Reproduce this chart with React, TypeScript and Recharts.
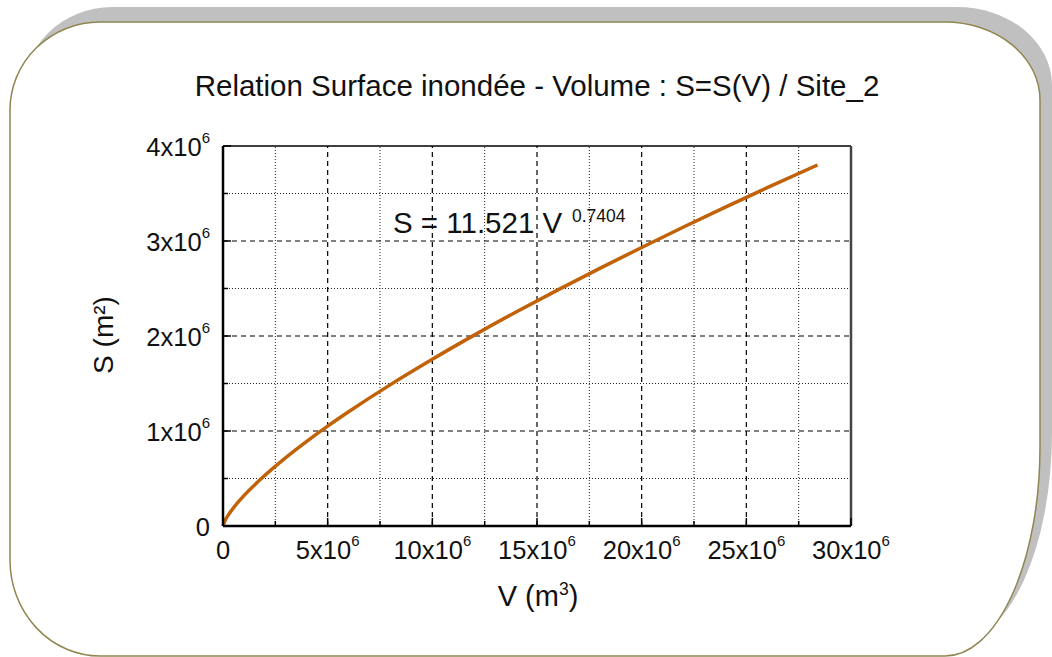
import React from 'react';
import { LineChart, Line, XAxis, YAxis, ReferenceLine } from 'recharts';

const volumes = [0, 100000, 250000, 500000, 1000000, 2000000, 3000000, 4000000, 5000000, 6000000, 8000000, 10000000, 12000000, 14000000, 16000000, 18000000, 20000000, 22000000, 24000000, 26000000, 28400000];
const surfaces = [0, 58000, 114000, 191000, 319000, 533000, 720000, 891000, 1051000, 1202000, 1488000, 1755000, 2009000, 2252000, 2486000, 2712000, 2932000, 3147000, 3356000, 3561000, 3800000];

const xMajor = [0, 5e6, 10e6, 15e6, 20e6, 25e6, 30e6];
const xMinor = [2.5e6, 7.5e6, 12.5e6, 17.5e6, 22.5e6, 27.5e6];
const yMajor = [0, 1e6, 2e6, 3e6, 4e6];
const yMinor = [0.5e6, 1.5e6, 2.5e6, 3.5e6];

const data = volumes.map((v, i) => ({ v, s: surfaces[i] }));

const FONT = 'Liberation Sans, Arial, sans-serif';
const W = 1052;
const H = 657;

const isMajor = (val: number, list: number[]) => list.includes(val);

const tickText = (val: number) => {
  if (val === 0) return '0';
  const m = Math.round(val / 1e6);
  return (
    <>
      {`${m}x10`}
      <tspan dy={-13} fontSize={15}>6</tspan>
    </>
  );
};

const XTick = (props: any) => {
  const { x, y, payload } = props;
  const val = payload.value as number;
  const major = isMajor(val, xMajor);
  const len = major ? 8 : 5;
  return (
    <g>
      <line x1={x} y1={y} x2={x} y2={y - len} stroke="#000" strokeWidth={1.5} />
      {major && (
        <text x={x} y={y + 33} textAnchor="middle" fontFamily={FONT} fontSize={25.5} fill="#111">
          {tickText(val)}
        </text>
      )}
    </g>
  );
};

const YTick = (props: any) => {
  const { x, y, payload } = props;
  const val = payload.value as number;
  const major = isMajor(val, yMajor);
  const len = major ? 8 : 5;
  return (
    <g>
      <line x1={x} y1={y} x2={x + len} y2={y} stroke="#000" strokeWidth={1.5} />
      {major && (
        <text x={x - 13} y={y + 10} textAnchor="end" fontFamily={FONT} fontSize={25.5} fill="#111">
          {tickText(val)}
        </text>
      )}
    </g>
  );
};

const framePath =
  'M 100 22 L 945 22 A 95 78 0 0 1 1040 100 L 1040 447 A 95 209 0 0 1 945 656 L 100 656 A 90 96 0 0 1 10 560 L 10 110 A 90 88 0 0 1 100 22 Z';

export default function App() {
  return (
    <div style={{ position: 'absolute', left: 0, top: 0, width: W, height: H, background: '#fff' }}>
      <svg width={W} height={H} style={{ position: 'absolute', left: 0, top: 0 }}>
        <path d={framePath} transform="translate(12,-15)" fill="#c0c0c0" />
        <path d={framePath} fill="#fff" stroke="#8f8650" strokeWidth={1.5} />
      </svg>

      <div style={{ position: 'absolute', left: 0, top: 0 }}>
        <LineChart width={W} height={H} data={data} margin={{ top: 146, right: 201, bottom: 91, left: 163 }}>
          {xMinor.map(v => (
            <ReferenceLine key={`xm${v}`} x={v} stroke="#222" strokeWidth={1} strokeDasharray="1 2" />
          ))}
          {yMinor.map(v => (
            <ReferenceLine key={`ym${v}`} y={v} stroke="#222" strokeWidth={1} strokeDasharray="1 2" />
          ))}
          {xMajor.slice(1, -1).map(v => (
            <ReferenceLine key={`xM${v}`} x={v} stroke="#000" strokeWidth={1.2} strokeDasharray="5 4" />
          ))}
          {yMajor.slice(1, -1).map(v => (
            <ReferenceLine key={`yM${v}`} y={v} stroke="#000" strokeWidth={1.2} strokeDasharray="5 4" />
          ))}
          <ReferenceLine y={4e6} stroke="#000" strokeWidth={1.5} />
          <ReferenceLine x={30e6} stroke="#444" strokeWidth={2.5} />
          <XAxis
            type="number"
            dataKey="v"
            domain={[0, 30e6]}
            ticks={[...xMajor, ...xMinor].sort((a, b) => a - b)}
            height={40}
            tickSize={0}
            tickMargin={0}
            tick={<XTick />}
            axisLine={{ stroke: '#000', strokeWidth: 2.5 }}
            interval={0}
          />
          <YAxis
            type="number"
            domain={[0, 4e6]}
            ticks={[...yMajor, ...yMinor].sort((a, b) => a - b)}
            width={60}
            tickSize={0}
            tickMargin={0}
            tick={<YTick />}
            axisLine={{ stroke: '#000', strokeWidth: 2.5 }}
            interval={0}
          />
          <Line
            type="monotone"
            dataKey="s"
            stroke="#c26208"
            strokeWidth={3.5}
            dot={false}
            isAnimationActive={false}
          />
        </LineChart>
      </div>

      <svg width={W} height={H} style={{ position: 'absolute', left: 0, top: 0, pointerEvents: 'none' }}>
        <text x={537} y={96} textAnchor="middle" fontFamily={FONT} fontSize={29.5} fill="#111">
          Relation Surface inondée - Volume : S=S(V) / Site_2
        </text>
        <text x={393} y={233} fontFamily={FONT} fontSize={29.5} fill="#111">
          S = 11.521 V
          <tspan x={572} y={222} fontSize={17.5}>0.7404</tspan>
        </text>
        <text x={538} y={606} textAnchor="middle" fontFamily={FONT} fontSize={29} fill="#111">
          V (m<tspan dy={-11} fontSize={17.5}>3</tspan><tspan dy={11}>)</tspan>
        </text>
        <text
          x={106}
          y={335}
          transform="rotate(-90 106 335)"
          textAnchor="middle"
          dominantBaseline="middle"
          fontFamily={FONT}
          fontSize={28}
          fill="#111"
        >
          S (m²)
        </text>
      </svg>
    </div>
  );
}
